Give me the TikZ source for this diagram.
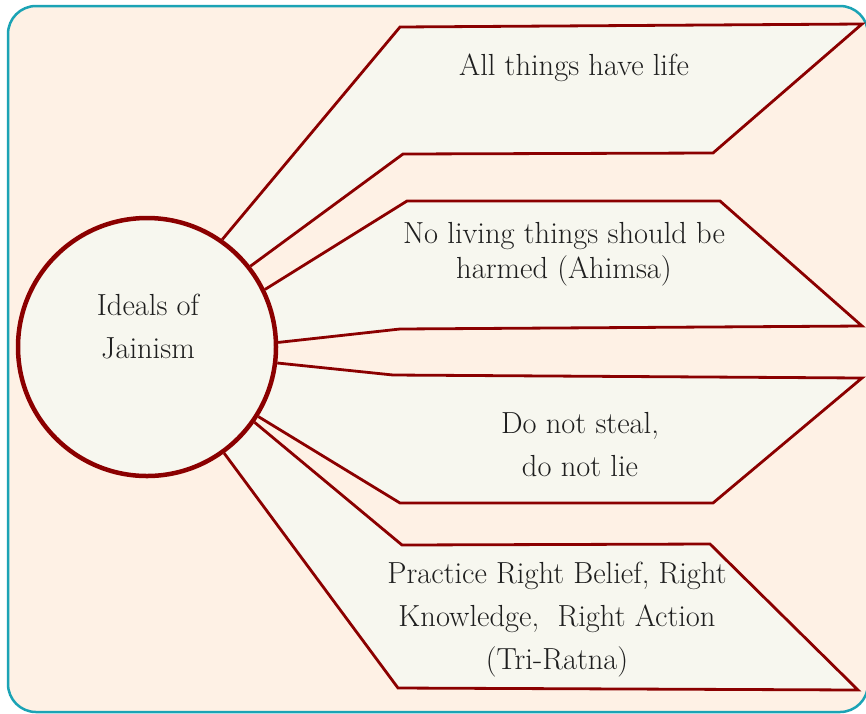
\documentclass[tikz,border=0pt]{standalone}
\usepackage{tikz}
\definecolor{peach}{HTML}{FEF1E5}
\definecolor{tealline}{HTML}{1BA3B5}
\definecolor{ivory}{HTML}{F7F7EF}
\definecolor{maroon}{HTML}{8B0000}
\definecolor{inkgray}{HTML}{1E1E1E}

\pgfdeclarelayer{backdrop}
\pgfdeclarelayer{panels}
\pgfsetlayers{backdrop,panels,main}

\begin{document}
\begin{tikzpicture}[x=1pt, y=-1pt,
  hub/.style={draw=maroon, fill=ivory, circle, line width=4.5pt, minimum size=258pt, inner sep=0pt},
  panel/.style={draw=maroon, fill=ivory, line width=2.8pt},
  idea/.style={text=inkgray, align=center, font=\fontsize{30.5}{43}\selectfont},
  outerbox/.style={draw=tealline, fill=peach, line width=2.5pt, rounded corners=28pt}
]
\useasboundingbox (0,0) rectangle (866,713);

% Nodes
\node[hub] (hub) at (147,347) {};
\node[idea] (title) at (148,327) {Ideals of\\Jainism};
\node[idea] (life) at (574,68) {All things have life};
\node[idea, font=\fontsize{30.5}{35}\selectfont] (ahimsa) at (564,254) {No living things should be\\harmed (Ahimsa)};
\node[idea] (steal) at (580,445) {Do not steal,\\do not lie};
\node[idea] (triratna) at (557,620) {Practice Right Belief, Right\\Knowledge,\ \ Right Action\\(Tri-Ratna)};

% Panels
\begin{pgfonlayer}{panels}
\draw[panel] (hub.55.5) -- (400,27) -- (862,24) -- (713,153) -- (403,154) -- (hub.38.5);
\draw[panel] (hub.26.6) -- (407,201) -- (720,201) -- (862,326) -- (400,329) -- (hub.2.6);
\draw[panel] (hub.-7.3) -- (393,375) -- (862,378) -- (713,503) -- (400,503) -- (hub.-32.6);
\draw[panel] (hub.-35.1) -- (402,545) -- (710,544) -- (858,690) -- (398,688) -- (hub.-54.4);
\end{pgfonlayer}

% Frame
\begin{pgfonlayer}{backdrop}
\draw[outerbox] (8,6) rectangle (868,712);
\end{pgfonlayer}

\end{tikzpicture}
\end{document}
